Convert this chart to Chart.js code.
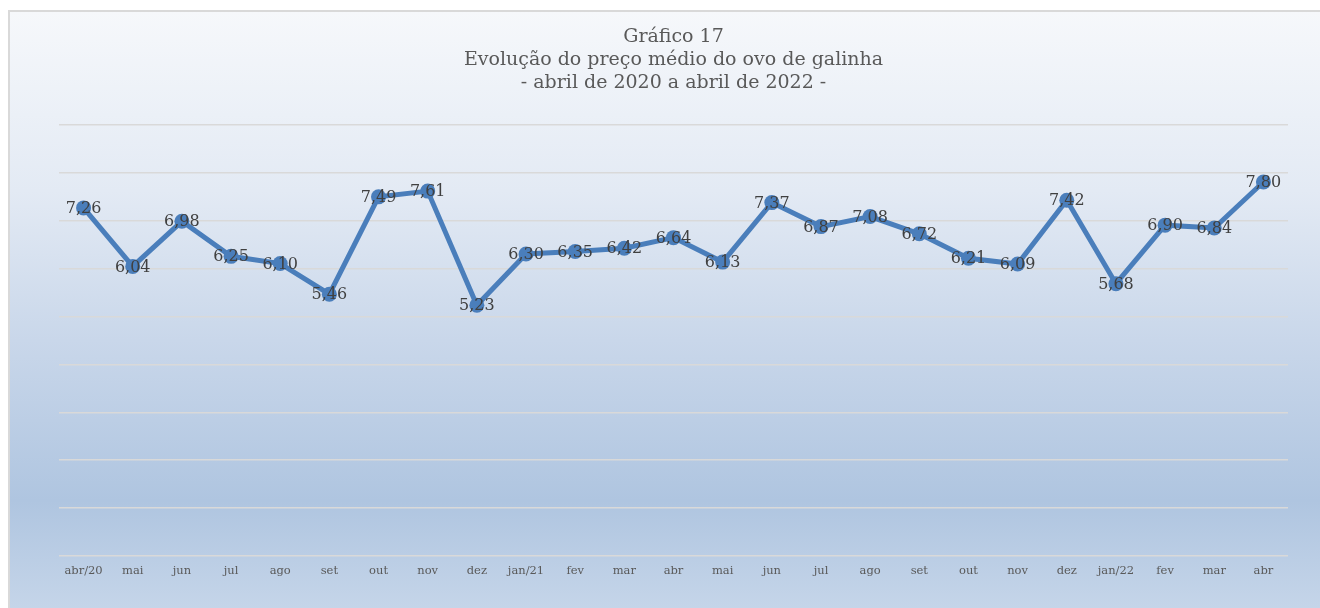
<!DOCTYPE html>
<html>
<head>
<meta charset="utf-8">
<script src="https://cdn.jsdelivr.net/npm/chart.js@4"></script>
<style>
    body { margin: 0; background: #ffffff; overflow: hidden; }
    #box {
        position: absolute; left: 8px; top: 10px;
        width: 1310px; height: 596px;
        border: 2px solid #d9d9d9;
        background: linear-gradient(to bottom, #f6f8fb 0%, #e3eaf4 30%, #c9d7ea 55%, #afc5e0 82%, #c5d5e9 100%);
    }
    #wrap { position: absolute; left: 0; top: 0; width: 1310px; height: 596px; }
</style>
</head>
<body>
<div id="box"><div id="wrap"><canvas id="preco"></canvas></div></div>
<script>
const months = ['abr/20', 'mai', 'jun', 'jul', 'ago', 'set', 'out', 'nov', 'dez', 'jan/21', 'fev', 'mar',
    'abr', 'mai', 'jun', 'jul', 'ago', 'set', 'out', 'nov', 'dez', 'jan/22', 'fev', 'mar', 'abr'];
const precoMedio = [7.26, 6.04, 6.98, 6.25, 6.10, 5.46, 7.49, 7.61, 5.23, 6.30, 6.35, 6.42,
    6.64, 6.13, 7.37, 6.87, 7.08, 6.72, 6.21, 6.09, 7.42, 5.68, 6.90, 6.84, 7.80];
const titleLines = ['Gráfico 17', 'Evolução do preço médio do ovo de galinha', '- abril de 2020 a abril de 2022 -'];

const serif = "'DejaVu Serif', serif";

// draws the value of each point on top of the marker, comma as decimal sign
const valueLabels = {
    id: 'valueLabels',
    afterDatasetsDraw(chart) {
        const ctx = chart.ctx;
        const meta = chart.getDatasetMeta(0);
        ctx.save();
        ctx.font = '16px ' + serif;
        ctx.fillStyle = '#404040';
        ctx.textAlign = 'center';
        ctx.textBaseline = 'middle';
        meta.data.forEach((pt, i) => {
            ctx.fillText(precoMedio[i].toFixed(2).replace('.', ','), pt.x, pt.y + 1);
        });
        ctx.restore();
    }
};

const chart = new Chart(document.getElementById('preco'), {
    type: 'line',
    data: {
        labels: months,
        datasets: [{
            label: 'Preço médio',
            data: precoMedio,
            borderColor: '#4a7ebb',
            backgroundColor: '#4a7ebb',
            borderWidth: 5,
            pointRadius: 7.5,
            pointHoverRadius: 7.5,
            pointBorderWidth: 0,
            tension: 0,
        }]
    },
    options: {
        responsive: true,
        maintainAspectRatio: false,
        animation: false,
        layout: {
            padding: { left: 49, right: 32, top: 0, bottom: 22 }
        },
        plugins: {
            legend: { display: false },
            tooltip: { enabled: false },
            title: {
                display: true,
                text: titleLines,
                color: '#595959',
                font: { family: serif, size: 19, weight: 'normal', lineHeight: 1.2 },
                padding: { top: 14, bottom: 30 },
            },
        },
        scales: {
            x: {
                offset: true,
                grid: { display: false, drawTicks: false },
                border: { display: false },
                ticks: {
                    color: '#595959',
                    font: { family: serif, size: 11.5 },
                    padding: 8,
                    maxRotation: 0,
                    autoSkip: false,
                },
            },
            y: {
                min: 0,
                max: 9,
                ticks: { display: false, stepSize: 1 },
                grid: { color: '#d9d9d9', lineWidth: 1.5, drawTicks: false },
                border: { display: false },
            },
        },
    },
    plugins: [valueLabels]
});
</script>
</body>
</html>
